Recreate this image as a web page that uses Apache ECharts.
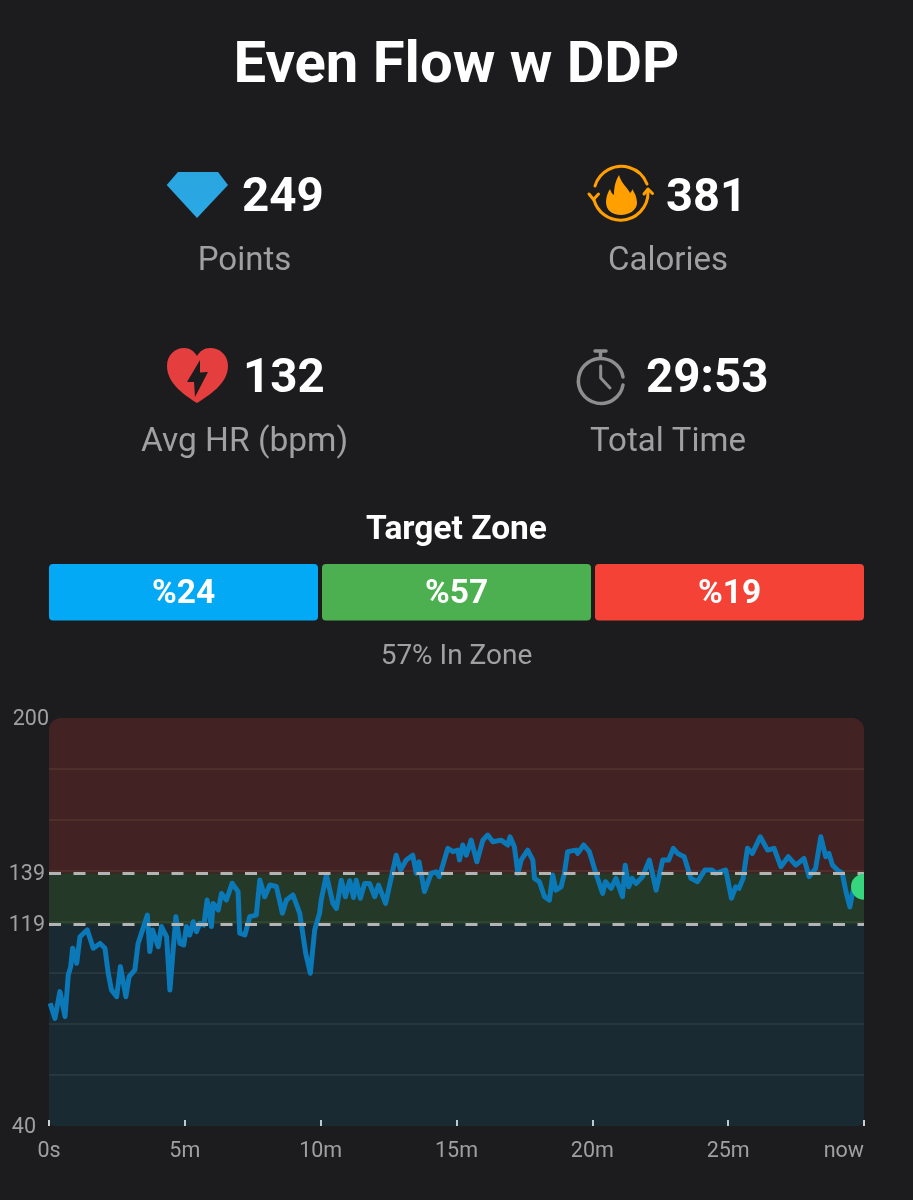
<!DOCTYPE html>
<html><head><meta charset="utf-8">
<style>html,body{margin:0;padding:0;background:#1c1c1e}#c{width:913px;height:1200px}</style>
<script src="https://cdn.jsdelivr.net/npm/echarts@6/dist/echarts.min.js"></script>
</head><body><div id="c"></div>
<script>
const titleText = 'Even Flow w DDP';
const zonePercents = ['%24', '%57', '%19'];
const zoneBands = [[139, 200], [119, 139], [40, 119]];
const zoneLimits = [139, 119];
const yLabels = [40, 119, 139, 200];
const xTickNames = ['0s', '5m', '10m', '15m', '20m', '25m', 'now'];
const minutes = [0.04,0.22,0.40,0.59,0.71,0.80,0.87,1.02,1.14,1.41,1.63,1.88,2.06,2.18,2.30,2.49,2.63,2.83,2.95,3.16,3.28,3.62,3.71,3.81,4.02,4.14,4.33,4.45,4.67,4.82,4.96,5.06,5.18,5.31,5.43,5.55,5.70,5.82,5.98,6.04,6.23,6.35,6.53,6.74,6.96,7.02,7.21,7.39,7.63,7.76,7.94,8.13,8.37,8.59,8.74,8.98,9.23,9.45,9.62,9.78,9.96,
10.02,10.21,10.45,10.58,10.76,10.91,11.07,11.21,11.31,11.46,11.62,11.80,11.99,12.13,12.39,12.78,12.94,13.15,13.39,13.52,13.62,13.82,14.07,14.25,14.37,14.68,14.87,15.05,15.11,15.23,15.36,15.54,15.75,15.97,16.15,16.34,16.64,16.89,16.97,17.13,17.26,17.38,17.62,17.81,17.87,18.05,18.24,18.42,18.54,18.66,18.85,18.97,19.09,19.40,19.46,19.68,19.89,20.13,20.38,20.48,
20.69,20.87,21.11,21.21,21.34,21.46,21.61,21.85,22.10,22.35,22.59,22.81,22.98,23.14,23.38,23.63,23.87,24.15,24.40,24.55,24.91,25.12,25.28,25.40,25.55,25.71,25.89,26.18,26.45,26.69,26.94,27.21,27.49,27.79,27.98,28.22,28.41,28.59,28.71,28.84,29.02,29.20,29.35,29.48,29.60,29.80];
const heartRate = [88.1,82.2,92.7,82.9,99.2,102.5,109.7,103.8,114.2,116.9,109.7,111.6,109.7,99.9,93.3,90.7,102.5,90.7,98.6,101.2,111.6,122.7,108.4,116.9,110.3,118.2,114.2,93.3,122.1,111.6,111.0,118.2,114.9,120.1,116.2,119.5,118.8,128.6,118.2,127.3,124.7,131.2,128.6,135.2,131.9,115.6,114.9,122.1,122.7,136.5,129.9,134.5,133.9,123.4,128.6,130.6,123.4,107.7,99.9,116.9,123.4,
128.6,138.4,127.3,125.3,136.4,129.9,136.2,129.6,136.4,129.3,135.1,135.1,129.9,134.5,127.3,146.2,140.4,144.3,146.2,139.1,143.6,131.9,139.1,139.7,137.8,148.9,147.6,148.2,144.3,150.2,146.2,152.1,143.6,152.1,154.1,151.5,152.1,150.2,153.4,149.5,139.1,144.3,148.2,144.3,137.1,135.8,129.9,128.6,138.4,132.5,133.8,139.1,147.6,148.2,146.9,150.2,147.6,139.1,131.2,135.8,
133.2,137.1,129.9,142.3,133.8,137.1,135.1,137.8,144.3,132.5,144.3,144.3,148.9,146.9,145.6,137.1,135.8,140.4,140.4,139.1,140.4,129.3,133.8,133.2,137.1,148.9,146.9,153.4,148.2,148.9,141.7,145.6,142.3,144.9,137.8,141.0,153.4,145.6,146.9,142.3,140.4,139.1,131.2,125.9,132.5,133.5];
const nowPoint = [30, 133.8];

const FONT = 'Roboto';
const WHITE = '#ffffff', GRAY = '#a0a0a0', BG = '#1c1c1e';
const bandColors = ['rgba(244,67,54,0.18)', 'rgba(76,200,90,0.17)', 'rgba(3,169,244,0.10)'];
const barColors = ['#03a9f4', '#4caf50', '#f44336'];

function txt(text, x, y, size, weight, fill, align) {
  return { type:'text', x:x, y:y, silent:true, style:{ text:text, fontFamily:FONT, fontSize:size, fontWeight:weight, fill:fill, align:align||'center', verticalAlign:'middle' } };
}
function fillPath(d, fill) { return { type:'path', silent:true, shape:{ pathData:d }, style:{ fill:fill } }; }
function strokePath(d, stroke, w) { return { type:'path', silent:true, shape:{ pathData:d }, style:{ fill:'none', stroke:stroke, lineWidth:w, lineCap:'round', lineJoin:'round' } }; }

const graphics = [
  txt(titleText, 456.5, 67, 58, 700, WHITE),
  txt('249', 242, 199, 47.5, 700, WHITE, 'left'),
  txt('Points', 244.5, 262, 33, 400, GRAY),
  txt('381', 666, 199, 47, 700, WHITE, 'left'),
  txt('Calories', 668, 262, 33, 400, GRAY),
  txt('132', 243, 380, 47.5, 700, WHITE, 'left'),
  txt('Avg HR (bpm)', 244.5, 443, 33.5, 400, GRAY),
  txt('29:53', 646, 380, 47.5, 700, WHITE, 'left'),
  txt('Total Time', 668, 443, 33, 400, GRAY),
  txt('Target Zone', 456.5, 531, 33.5, 700, WHITE),
  txt('57% In Zone', 456.5, 657, 28, 400, GRAY),
  { type:'polygon', silent:true, shape:{ points:[[166.7,185],[178,172],[218,172],[228,185],[197,218]] },
    style:{ fill:{ type:'linear', x:0, y:0, x2:0, y2:1, colorStops:[{offset:0,color:'#2aa5e0'},{offset:1,color:'#2aa9e6'}] } } }
];
const iconPaths = [
  fillPath('M197 403 C186 396 167 384 167 366 C167 355 175 348 184 348 C190 348 194 351 197 356 C200 351 204 348 210 348 C220 348 228 355 228 366 C228 384 208 396 197 403 Z', '#e53e3e'),
  fillPath('M200 360 L187 382 L194 382 L195 397 L208 372 L200 372.5 Z', BG),
  fillPath('M619 175 C621 183 628 188 630 193 C632 191 632 190 632 189 C636 194 637 200 637 203 C637 210 629 215 621 215 C612 215 606 210 606 202 C606 197 608 192 610 189 C611 192 612 194 614 195 C614 186 616 180 619 175 Z', '#ffa000'),
  strokePath('M595 186 A27.5 27.5 0 0 1 647 184', '#ffa000', 3),
  strokePath('M648 192 A27.5 27.5 0 0 1 594 200', '#ffa000', 3),
  strokePath('M589 194 L593.5 199.5 L598.5 194', '#ffa000', 3),
  strokePath('M644 194 L648 189 L652.5 193.5', '#ffa000', 3),
  strokePath('M623 385 A22.5 22.5 0 1 1 623 377', '#8e8e8e', 3.5),
  strokePath('M595 351 L606 351 M600.5 351 L600.5 358', '#8e8e8e', 3.5),
  strokePath('M600.7 366 L600.7 378 L610 388', '#8e8e8e', 3)
];
const barX = [49, 322, 595];
barX.forEach((x, i) => {
  graphics.push({ type:'rect', silent:true, shape:{ x:x, y:564, width:269, height:56.5, r:4 }, style:{ fill:barColors[i] } });
  graphics.push(txt(zonePercents[i], x + 134.5, 594.5, 33.5, 700, WHITE));
});

const yRich = { p200:{ padding:[4,0,0,0], fontFamily:FONT, fontSize:21.5, color:GRAY },
  p139:{ padding:[2,4,0,0], fontFamily:FONT, fontSize:21.5, color:GRAY },
  p119:{ padding:[2,4,0,0], fontFamily:FONT, fontSize:21.5, color:GRAY },
  p40:{ padding:[4,13,0,0], fontFamily:FONT, fontSize:21.5, color:GRAY } };

const chart = echarts.init(document.getElementById('c'), null, { renderer:'canvas', width:913, height:1200 });
chart.setOption({
  backgroundColor: BG,
  animation: false,
  graphic: { elements: graphics },
  grid: { left:49, top:718, width:815, height:408, containLabel:false },
  xAxis: { type:'value', min:0, max:30, interval:5,
    axisLine:{ show:false }, splitLine:{ show:false },
    axisTick:{ show:true, inside:true, length:6, lineStyle:{ color:'#cfcfcf', width:2 } },
    axisLabel:{ margin:15, fontFamily:FONT, fontSize:21.5, color:GRAY, alignMaxLabel:'right',
      formatter:(v)=> xTickNames[Math.round(v/5)] } },
  yAxis: { type:'value', min:40, max:200, interval:20,
    axisLine:{ show:false }, axisTick:{ show:false },
    splitLine:{ show:true, showMinLine:false, showMaxLine:false, lineStyle:{ color:'#30302e', width:1.5 } },
    axisLabel:{ margin:0, customValues:yLabels, formatter:(v)=>'{p'+v+'|'+v+'}', rich:yRich } },
  series: [
    { type:'custom', coordinateSystem:'none', silent:true, z:10, clip:false, data:[0],
      renderItem:()=>({ type:'group', children:iconPaths }) },
    { type:'custom', silent:true, z:1, clip:false, data:zoneBands, encode:{ y:[0,1] },
      renderItem:(params, api)=>{
        const lo = api.coord([0, api.value(0)]), hi = api.coord([30, api.value(1)]);
        const i = params.dataIndex;
        const r = i===0 ? [12,12,0,0] : (i===2 ? [0,0,6,6] : 0);
        return { type:'rect', shape:{ x:lo[0], y:hi[1], width:hi[0]-lo[0], height:lo[1]-hi[1], r:r }, style:{ fill:bandColors[i] } };
      } },
    { type:'line', z:3, data:minutes.map((m,i)=>[m, heartRate[i]]), showSymbol:false, smooth:false,
      lineStyle:{ color:'#0b78b8', width:5, join:'round' }, silent:true,
      markLine:{ silent:true, symbol:'none', z:4, label:{ show:false }, animation:false,
        lineStyle:{ color:'#b4b4b4', width:3, type:[12,12.5], opacity:1 },
        data: zoneLimits.map(v=>({ yAxis:v })) } },
    { type:'custom', z:5, clip:true, silent:true, data:[nowPoint], encode:{ x:0, y:1 },
      renderItem:(params, api)=>{
        const p = api.coord([api.value(0), api.value(1)]);
        return { type:'circle', shape:{ cx:p[0], cy:p[1], r:13 }, style:{ fill:'#35d67e' } };
      } }
  ]
});
</script></body></html>
